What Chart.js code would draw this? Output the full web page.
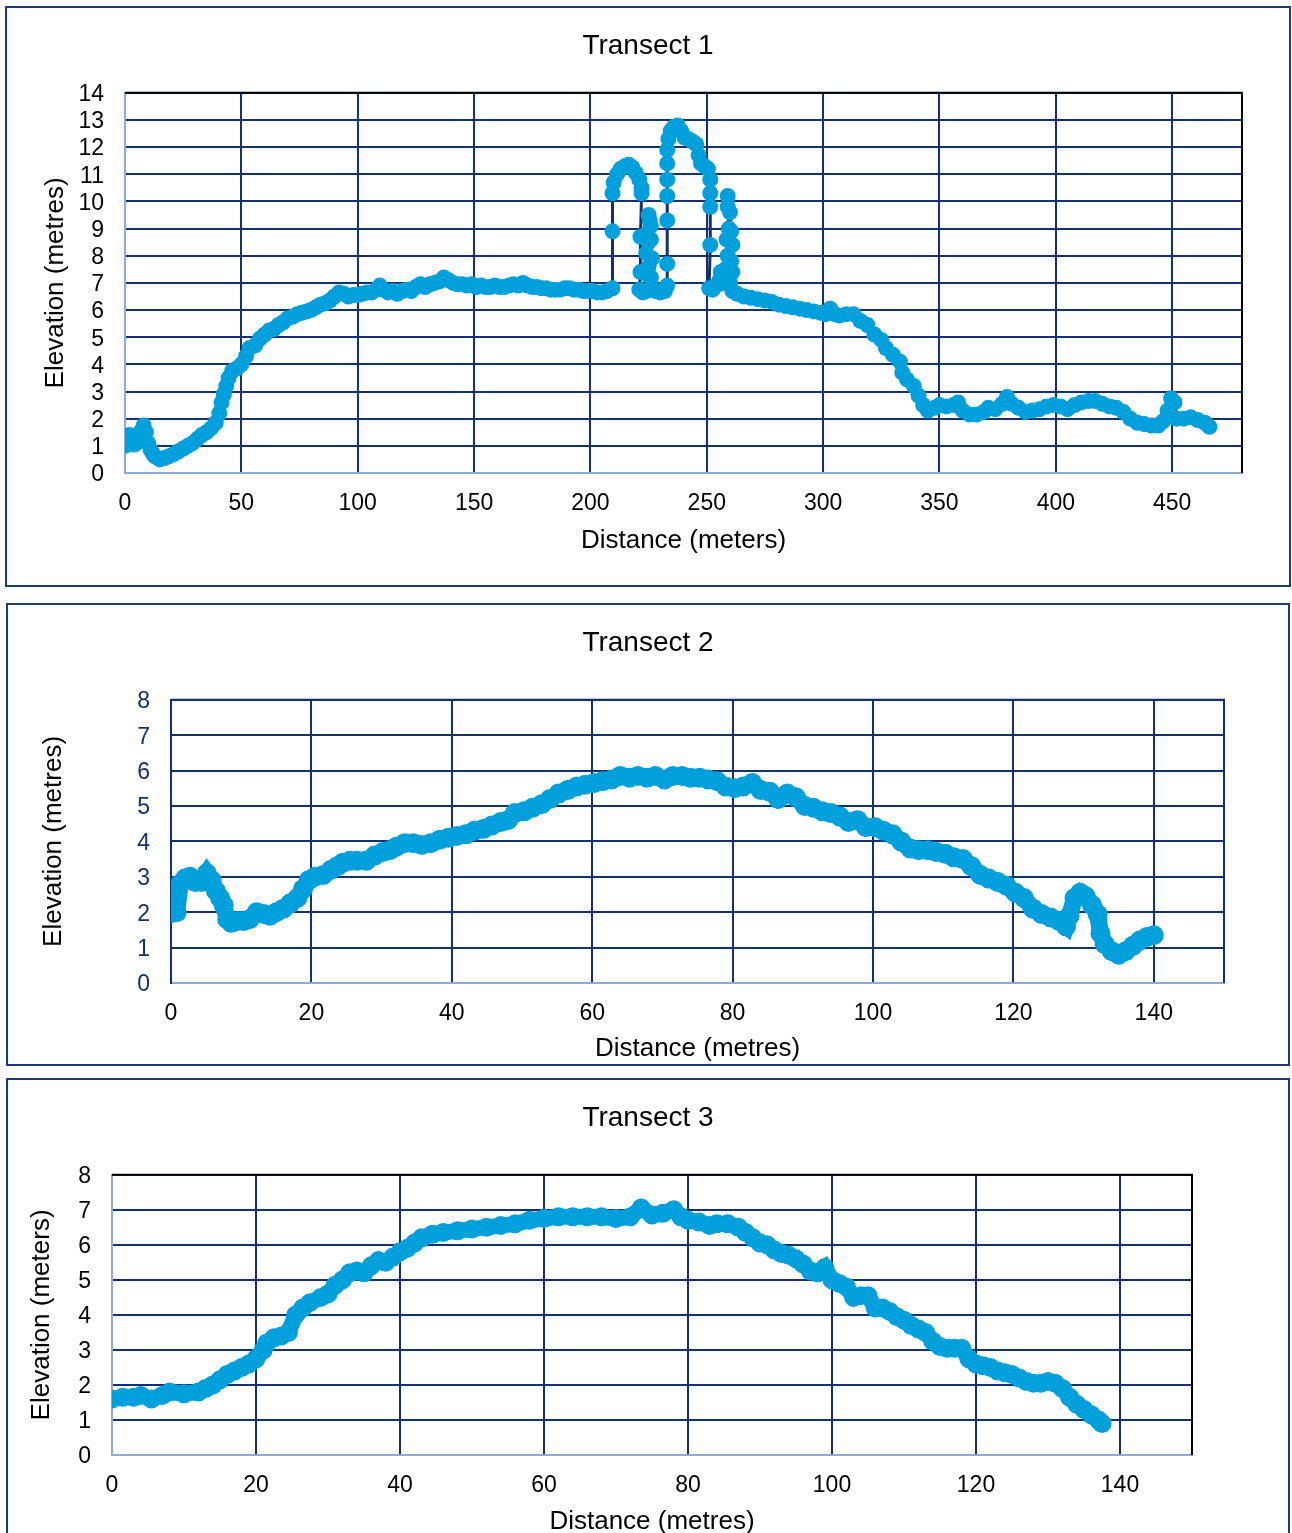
<!DOCTYPE html>
<html>
<head>
<meta charset="utf-8">
<script src="https://cdn.jsdelivr.net/npm/chart.js@4.4.1/dist/chart.umd.min.js"></script>
<style>
  body { margin: 0; background: #fff; width: 1292px; height: 1533px; overflow: hidden; position: relative; }
  .box { position: absolute; border: 2px solid #1f3a78; box-sizing: content-box; }
  canvas { display: block; }
</style>
</head>
<body>
<div class="box" style="left:5px; top:6px; width:1282px; height:577px;"><canvas id="t1" width="1282" height="577"></canvas></div>
<div class="box" style="left:6px; top:603px; width:1280px; height:459px;"><canvas id="t2" width="1280" height="459"></canvas></div>
<div class="box" style="left:6px; top:1078px; width:1280px; height:458px;"><canvas id="t3" width="1280" height="458"></canvas></div>
<script>
// Transect 1 - distance (m) / elevation (m)
const t1Dist = [0,1,2,3,4,5,6,7,8,9,10,11,12,13,15,17,19,21,23,25,27,29,31,33,35,37,39,40.5,41.5,42.5,43.5,44.5,46,48,50,52,53.5,56,58,60,62,64,66,68,70,72,74,76,78,80,82,84,86,88,90,92,94,96,98,100,102,104,106,108,109.5,111,113,115,117,119,121,123,125,127,129,131,133,135,137,139,141,143,145,147,149,151,153,155,157,159,161,163,165,167,169,171,173,175,177,179,181,183,185,187,189,191,193,195,197,199,201,203,205,207,
  209.5,209.5,209.5,210,211.5,213,215,216.5,218,219.5,221,222,222,221.5,221.5,221,222.5,224,224.5,225,224,225,224,225.5,225,226,226,226.5,226,226.5,228,230,232,
  233,233,233,233,233,233,233,233.5,234.5,236,237.5,239,240.5,242,244,245.5,246.5,247.5,249,250.5,251.5,251.5,251.5,251.5,251,
  252.5,254,255.5,256,257,258,259,258.5,259.5,259,259,260,260.5,261,260.5,261,260,261,
  263,266,269,272,275,278,281,284,287,290,293,296,299,301,303,305,307,310,313,316,319,322,325,327,330,333,334,336,339,341,343,345,348,350,353,356,358,360,363,366,369,371,374,377,379,381,384,387,390,393,396,399,402,405,408,411,414,417,420,423,426,429,432,435,438,441,444,446,448,449.5,451,452,455,458,461,464,466];
const t1Elev = [1.0,1.2,1.4,1.3,1.05,1.1,1.2,1.55,1.75,1.5,1.1,0.85,0.7,0.6,0.5,0.55,0.62,0.7,0.8,0.9,1.0,1.1,1.25,1.4,1.5,1.65,1.85,2.2,2.6,2.9,3.2,3.5,3.75,3.85,4.0,4.3,4.6,4.7,4.95,5.1,5.25,5.3,5.45,5.55,5.7,5.75,5.85,5.9,5.95,6.0,6.1,6.2,6.25,6.35,6.5,6.65,6.6,6.5,6.55,6.55,6.6,6.65,6.65,6.75,6.9,6.75,6.65,6.7,6.6,6.7,6.75,6.7,6.85,6.95,6.85,6.95,7.0,7.05,7.2,7.1,7.0,6.95,6.95,6.9,6.95,6.85,6.9,6.85,6.85,6.9,6.85,6.85,6.9,6.95,6.9,7.0,6.9,6.85,6.85,6.8,6.8,6.75,6.75,6.75,6.8,6.8,6.75,6.75,6.7,6.7,6.7,6.65,6.65,6.7,
  6.8,8.9,10.3,10.7,11.0,11.2,11.3,11.35,11.25,11.05,10.8,10.5,10.3,8.7,7.4,6.75,6.65,6.7,7.3,7.6,8.1,8.5,8.8,9.3,9.5,9.1,8.6,7.9,7.2,6.8,6.7,6.65,6.7,
  6.9,7.7,9.3,10.2,10.8,11.4,11.9,12.3,12.6,12.75,12.8,12.6,12.35,12.3,12.2,12.1,11.7,11.4,11.3,11.2,10.8,10.3,9.8,8.4,6.8,
  6.75,6.9,7.1,7.4,7.0,7.5,8.0,8.6,9.0,9.8,10.2,9.6,8.9,8.4,7.8,7.4,7.0,6.7,
  6.6,6.5,6.45,6.4,6.35,6.3,6.2,6.15,6.1,6.05,6.0,5.95,5.9,5.85,6.05,5.85,5.8,5.85,5.85,5.6,5.45,5.1,4.9,4.6,4.35,4.1,3.7,3.45,3.2,2.85,2.5,2.3,2.4,2.5,2.45,2.5,2.6,2.3,2.15,2.15,2.25,2.4,2.35,2.55,2.8,2.55,2.4,2.25,2.3,2.35,2.45,2.5,2.45,2.35,2.5,2.6,2.65,2.65,2.55,2.45,2.4,2.25,2.0,1.85,1.8,1.75,1.75,1.9,2.3,2.75,2.6,2.0,2.0,2.05,1.95,1.85,1.7];

// Transect 2
const t2Dist = [0,0.8,1.3,2,2.7,3.5,4.3,5.1,5.8,6.4,7,7.5,8,8.6,9.5,10.4,11.2,12.2,13.2,14.1,15,16,17,18,18.8,19.6,20.5,21.7,22.8,23.7,24.5,25.5,26.5,27.8,29,30.2,31.2,32.1,33.3,34.5,35.7,37,38.3,39.5,40.7,42,43.2,44.5,45.7,47,48,49,50.3,51.5,52.8,54,55.2,56.5,57.8,59,60.3,61.5,62.8,64,65.3,66.5,67.8,69,70.3,71.5,72.8,74,75.3,76.5,77.8,79,80.3,81.5,82.8,84,85.3,86.5,87.8,89,90.3,91.5,92.8,94,95.3,96.5,97.8,99,100.3,101.5,102.8,104,105.3,106.5,107.8,109,110.3,111.5,112.8,114,115.3,116.5,117.8,119,120.3,121.5,122.8,124,125.3,126.5,127.5,128,128.7,129.5,130.3,131.2,132,132.4,133,134,135,136,137,138,139,140];
const t2Elev = [1.97,2.0,2.8,2.95,3.0,2.85,2.85,3.1,2.9,2.6,2.4,2.2,1.8,1.7,1.75,1.75,1.8,2.0,1.95,1.9,2.0,2.1,2.25,2.4,2.65,2.9,3.0,3.05,3.2,3.3,3.4,3.45,3.45,3.45,3.6,3.7,3.75,3.85,3.95,3.95,3.9,3.95,4.05,4.1,4.15,4.2,4.3,4.35,4.45,4.55,4.6,4.8,4.85,4.95,5.05,5.2,5.35,5.45,5.55,5.6,5.65,5.7,5.75,5.85,5.8,5.85,5.8,5.85,5.75,5.85,5.85,5.8,5.8,5.75,5.7,5.55,5.5,5.55,5.65,5.45,5.4,5.2,5.35,5.25,5.0,4.95,4.85,4.8,4.7,4.55,4.6,4.4,4.4,4.3,4.2,4.0,3.8,3.75,3.75,3.7,3.65,3.55,3.5,3.3,3.05,2.95,2.85,2.75,2.55,2.4,2.1,1.95,1.85,1.75,1.6,1.9,2.4,2.55,2.45,2.2,1.95,1.4,1.1,0.9,0.8,0.9,1.05,1.2,1.3,1.35];

// Transect 3
const t3Dist = [0,1.5,3,4,5.5,7,8,10,12,13,14,15,16,17,18,19,20,21,21.5,22.5,23.5,24.5,25.5,26.5,27.5,29,30,31,32,33,34,35,36,37,38,39,40,41,42,43,44.5,46,48,50,52,54,56,58,60,62,64,66,68,70,72,73.5,75,76.5,78,79,80,81.5,83,84,85.5,87,88,89,90,91,92,93,94,95,96,97,98,99,100,101,102,103,104,105,106,107,108,109,110,111,112,113,114,115,116,117,118,119,120,121,122,123,124,125,126,127,128,129,130,131,132,133,134,135,136,137,137.5];
const t3Elev = [1.6,1.65,1.65,1.7,1.6,1.7,1.8,1.75,1.8,1.9,2.0,2.15,2.3,2.4,2.5,2.6,2.75,3.0,3.2,3.35,3.4,3.5,4.0,4.2,4.35,4.5,4.6,4.85,5.0,5.2,5.25,5.2,5.4,5.55,5.5,5.65,5.8,5.9,6.05,6.2,6.3,6.35,6.4,6.45,6.5,6.55,6.6,6.7,6.75,6.8,6.8,6.8,6.8,6.75,6.8,7.05,6.85,6.9,7.0,6.8,6.7,6.65,6.55,6.6,6.6,6.5,6.35,6.2,6.05,6.0,5.85,5.75,5.7,5.6,5.45,5.25,5.2,5.35,5.0,4.9,4.8,4.5,4.55,4.55,4.2,4.2,4.1,3.95,3.85,3.7,3.6,3.5,3.25,3.1,3.05,3.05,3.05,2.75,2.6,2.55,2.5,2.4,2.35,2.3,2.2,2.1,2.05,2.05,2.1,2.05,1.9,1.65,1.45,1.3,1.15,1.0,0.9];

const NAVY = '#14306e';
const PALE = '#8eaadb';
const DOT = '#00a0dc';
const FONT = "'Liberation Sans', Arial, sans-serif";

// top / right edge of the plot area
const frame = {
  id: 'frame',
  afterDraw(chart, args, opts) {
    const a = chart.chartArea, c = chart.ctx;
    c.save();
    c.lineWidth = 2;
    c.strokeStyle = opts.top;
    c.beginPath(); c.moveTo(a.left, a.top); c.lineTo(a.right + 1, a.top); c.stroke();
    c.strokeStyle = opts.right;
    c.beginPath(); c.moveTo(a.right, a.top); c.lineTo(a.right, a.bottom); c.stroke();
    c.restore();
  }
};

function pts(xs, ys) {
  return xs.map((x, i) => ({ x: x, y: ys[i] }));
}

function makeChart(id, cfg) {
  const hideZero = ctx => (ctx.tick && ctx.tick.value === 0) ? 'rgba(0,0,0,0)' : NAVY;
  return new Chart(document.getElementById(id), {
    type: 'scatter',
    data: {
      datasets: [{
        data: pts(cfg.xs, cfg.ys),
        showLine: true,
        borderColor: cfg.lineColor,
        borderWidth: cfg.lineWidth,
        pointRadius: cfg.r,
        pointBorderWidth: 2,
        pointBackgroundColor: DOT,
        pointBorderColor: DOT,
        tension: 0
      }]
    },
    plugins: [frame],
    options: {
      responsive: false,
      animation: false,
      devicePixelRatio: 1,
      layout: { padding: 0 },
      plugins: {
        legend: { display: false },
        tooltip: { enabled: false },
        title: {
          display: true,
          text: cfg.title,
          color: '#000',
          font: { family: FONT, size: 28, weight: 'normal', lineHeight: 1.2 },
          padding: { top: 21, bottom: cfg.titleBottom - 2 }
        },
        frame: { top: cfg.topColor, right: cfg.rightColor }
      },
      scales: {
        x: {
          type: 'linear',
          min: 0, max: cfg.xMax,
          afterFit: s => { s.height = cfg.xH; },
          grid: { color: hideZero, lineWidth: 2, drawTicks: false },
          border: { color: PALE, width: 2 },
          ticks: { stepSize: cfg.xStep, includeBounds: false, autoSkip: false, maxRotation: 0, padding: 17,
                   color: '#000', font: { family: FONT, size: 23 } },
          title: { display: true, text: cfg.xTitle, color: '#000',
                   font: { family: FONT, size: 26, lineHeight: 1.2 }, padding: { top: 0, bottom: cfg.xTitlePad - 2 } }
        },
        y: {
          type: 'linear',
          min: 0, max: cfg.yMax,
          afterFit: s => { s.width = cfg.yW; },
          grid: { color: hideZero, lineWidth: 2, drawTicks: false },
          border: { color: cfg.leftColor, width: 2 },
          ticks: { stepSize: 1, autoSkip: false, padding: 21, labelOffset: 2,
                   color: cfg.yTickColor, font: { family: FONT, size: 23 } },
          title: { display: true, text: cfg.yTitle, color: '#000',
                   font: { family: FONT, size: 26, lineHeight: 1.2 }, padding: { top: cfg.yTitlePad + 1.5, bottom: 0 } }
        },
        // empty spacer on the right so the title stays centred on the whole box
        spacer: {
          type: 'linear',
          axis: 'y',
          position: 'right',
          display: true,
          afterFit: s => { s.width = cfg.padRight; },
          grid: { display: false },
          border: { display: false },
          ticks: { display: false }
        }
      }
    }
  });
}

makeChart('t1', {
  xs: t1Dist, ys: t1Elev, title: 'Transect 1',
  xTitle: 'Distance (meters)', yTitle: 'Elevation (metres)',
  xMax: 480, xStep: 50, yMax: 14,
  padRight: 47, yW: 118, xH: 112, titleBottom: 32.2,
  yTitlePad: 31.4, xTitlePad: 30.4,
  lineColor: NAVY, lineWidth: 3, r: 7,
  topColor: '#000', rightColor: '#000', leftColor: PALE, yTickColor: '#000'
});

makeChart('t2', {
  xs: t2Dist, ys: t2Elev, title: 'Transect 2',
  xTitle: 'Distance (metres)', yTitle: 'Elevation (metres)',
  xMax: 150, xStep: 20, yMax: 8,
  padRight: 64, yW: 163, xH: 81, titleBottom: 42.2,
  yTitlePad: 28.4, xTitlePad: 1.4,
  lineColor: DOT, lineWidth: 17, r: 9,
  topColor: NAVY, rightColor: NAVY, leftColor: NAVY, yTickColor: NAVY
});

makeChart('t3', {
  xs: t3Dist, ys: t3Elev, title: 'Transect 3',
  xTitle: 'Distance (metres)', yTitle: 'Elevation (meters)',
  xMax: 150, xStep: 20, yMax: 8,
  padRight: 96, yW: 104, xH: 83, titleBottom: 42.2,
  yTitlePad: 16.4, xTitlePad: 2.4,
  lineColor: DOT, lineWidth: 16, r: 8.5,
  topColor: '#000', rightColor: '#000', leftColor: PALE, yTickColor: '#000'
});
</script>
</body>
</html>
